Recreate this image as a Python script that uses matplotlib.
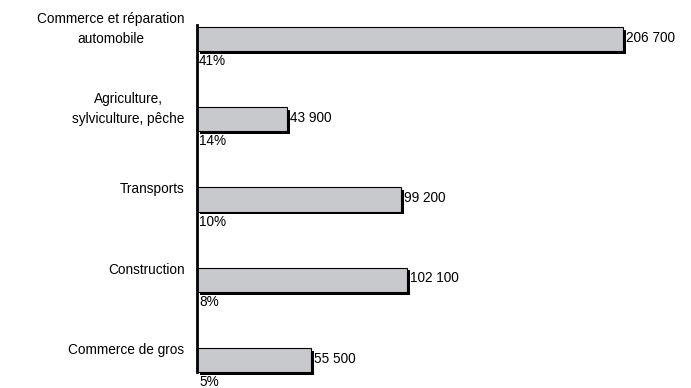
import matplotlib
matplotlib.use('Agg')
import matplotlib.pyplot as plt
import matplotlib.patheffects as path_effects

plt.rcParams['font.family'] = ['Liberation Sans', 'DejaVu Sans']

# données
categories = ["Commerce et réparation\nautomobile", "Agriculture,\nsylviculture, pêche",
              "Transports", "Construction", "Commerce de gros"]
values = [206700, 43900, 99200, 102100, 55500]
value_labels = ["206 700", "43 900", "99 200", "102 100", "55 500"]
shares = ["41%", "14%", "10%", "8%", "5%"]

fig = plt.figure(figsize=(6.91, 3.88), dpi=100)
ax = fig.add_axes([197 / 691, 16 / 388, 494 / 691, 347 / 388])

pos = list(range(len(values)))
bars = ax.barh(pos, values, height=0.3, color='#c8c9cc', edgecolor='black', linewidth=0.8)
for b in bars:
    b.set_clip_on(False)
    b.set_path_effects([path_effects.SimplePatchShadow(offset=(2, -2), shadow_rgbFace='black', alpha=1),
                        path_effects.Normal()])

ax.set_xlim(0, 239700)
ax.set_ylim(4.15, -0.174)

fs = 9.8
for y, v, vl, s, c in zip(pos, values, value_labels, shares, categories):
    ax.annotate(vl, (v, y), xytext=(2, 1), textcoords='offset points', ha='left', va='center', fontsize=fs)
    ax.annotate(s, (0, y + 0.15), xytext=(1.5, -2.2), textcoords='offset points', ha='left', va='top',
                fontsize=fs, annotation_clip=False)
    ax.annotate(c, (0, y - 0.125), xytext=(-9, 0), textcoords='offset points', ha='right', va='center',
                fontsize=fs, multialignment='center', linespacing=1.55, annotation_clip=False)

for side in ['top', 'right', 'bottom']:
    ax.spines[side].set_visible(False)
ax.spines['left'].set_linewidth(2)
ax.set_xticks([])
ax.set_yticks([])
ax.patch.set_alpha(0)

plt.savefig('out.png', dpi=100)
